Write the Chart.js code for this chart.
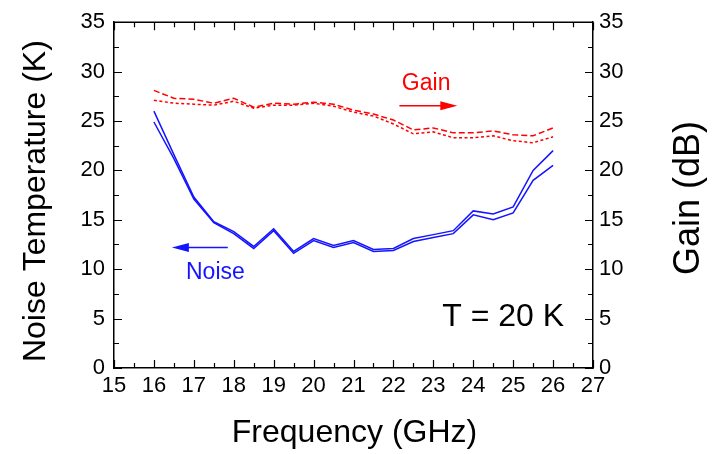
<!DOCTYPE html>
<html>
<head>
<meta charset="utf-8">
<script src="https://cdn.jsdelivr.net/npm/chart.js@4/dist/chart.umd.min.js"></script>
<style>
  body { margin: 0; background: #fff; }
  #wrap { width: 712px; height: 454px; }
</style>
</head>
<body>
<div id="wrap"><canvas id="g_ruido"></canvas></div>
<script>
// frecuencias (GHz)
var frecuencias = [16, 16.5, 17, 17.5, 18, 18.5, 19, 19.5, 20, 20.5, 21, 21.5, 22, 22.5, 23, 23.5, 24, 24.5, 25, 25.5, 26];
// temperatura de ruido (K)
var ruido_a = [26.0, 21.6, 17.3, 14.8, 13.8, 12.3, 14.1, 11.8, 13.1, 12.4, 12.9, 12.0, 12.1, 13.1, 13.5, 13.9, 15.9, 15.6, 16.3, 20.0, 22.0];
var ruido_b = [24.9, 21.2, 17.1, 14.7, 13.6, 12.1, 13.9, 11.6, 12.9, 12.2, 12.7, 11.8, 11.9, 12.8, 13.2, 13.6, 15.5, 15.0, 15.7, 19.0, 20.5];
// ganancia (dB)
var ganancia_a = [28.1, 27.3, 27.2, 26.8, 27.3, 26.4, 26.8, 26.7, 26.9, 26.7, 26.1, 25.7, 25.1, 24.1, 24.3, 23.8, 23.8, 24.0, 23.6, 23.5, 24.3];
var ganancia_b = [27.1, 26.8, 26.7, 26.6, 27.0, 26.3, 26.6, 26.6, 26.8, 26.5, 25.9, 25.5, 24.7, 23.7, 23.9, 23.3, 23.3, 23.5, 23.0, 22.8, 23.4];
var eje_x = { min: 15, max: 27, paso: 1 };
var eje_y = { min: 0, max: 35, paso: 5 };

var fuente = "'Liberation Sans', Arial, sans-serif";
var azul = 'rgb(20, 20, 255)';
var rojo = 'rgb(255, 0, 0)';

function puntos(valores) {
    var res = [];
    for (let i = 0; i < frecuencias.length; i++) {
        res.push({ x: frecuencias[i], y: valores[i] });
    }
    return res;
}

function flecha(ctx, x0, x1, y, color) {
    var dir = x1 > x0 ? 1 : -1;
    ctx.strokeStyle = color;
    ctx.fillStyle = color;
    ctx.lineWidth = 1.5;
    ctx.beginPath();
    ctx.moveTo(x0, y);
    ctx.lineTo(x1 - dir * 14, y);
    ctx.stroke();
    ctx.beginPath();
    ctx.moveTo(x1, y);
    ctx.lineTo(x1 - dir * 17, y - 4.5);
    ctx.lineTo(x1 - dir * 17, y + 4.5);
    ctx.closePath();
    ctx.fill();
}

var marco = {
    id: 'marco',
    afterDatasetsDraw: function (chart) {
        var ctx = chart.ctx;
        var a = chart.chartArea;
        var sx = chart.scales.x, sy = chart.scales.y, sy1 = chart.scales.y1;
        ctx.save();
        ctx.strokeStyle = '#000';
        ctx.lineWidth = 1.5;
        ctx.beginPath();
        ctx.moveTo(a.left, a.top);
        ctx.lineTo(a.right, a.top);
        ctx.stroke();

        // marcas hacia dentro
        ctx.lineWidth = 1.2;
        ctx.beginPath();
        for (let v = eje_x.min; v <= eje_x.max; v += 0.5) {
            var px = Math.round(sx.getPixelForValue(v)) + 0.5;
            var l = (v % 1 === 0) ? 8 : 5;
            ctx.moveTo(px, a.bottom); ctx.lineTo(px, a.bottom - l);
            ctx.moveTo(px, a.top); ctx.lineTo(px, a.top + l);
        }
        for (let v = eje_y.min; v <= eje_y.max; v += 2.5) {
            var py = Math.round(sy.getPixelForValue(v)) + 0.5;
            var l2 = (v % 5 === 0) ? 8 : 5;
            ctx.moveTo(a.left, py); ctx.lineTo(a.left + l2, py);
            ctx.moveTo(a.right, py); ctx.lineTo(a.right - l2, py);
        }
        ctx.stroke();

        // anotaciones
        ctx.font = '23px ' + fuente;
        ctx.textAlign = 'center';
        ctx.textBaseline = 'middle';
        ctx.fillStyle = rojo;
        ctx.fillText('Gain', sx.getPixelForValue(22.82), sy1.getPixelForValue(28.8));
        flecha(ctx, sx.getPixelForValue(22.15), sx.getPixelForValue(23.6), sy1.getPixelForValue(26.55), rojo);
        ctx.fillStyle = azul;
        ctx.fillText('Noise', sx.getPixelForValue(17.54), sy.getPixelForValue(9.7));
        flecha(ctx, sx.getPixelForValue(17.85), sx.getPixelForValue(16.45), sy.getPixelForValue(12.2), azul);

        ctx.fillStyle = '#000';
        ctx.font = '32px ' + fuente;
        ctx.fillText('T = 20 K', sx.getPixelForValue(24.75), sy.getPixelForValue(5.1));

        // titulos de ejes
        ctx.font = '32px ' + fuente;
        ctx.fillText('Frequency (GHz)', (a.left + a.right) / 2 + 1, 433);
        ctx.save();
        ctx.translate(36, (a.top + a.bottom) / 2 + 6);
        ctx.rotate(-Math.PI / 2);
        ctx.fillText('Noise Temperature (K)', 0, 0);
        ctx.restore();
        ctx.font = '36px ' + fuente;
        ctx.save();
        ctx.translate(689, 198);
        ctx.rotate(-Math.PI / 2);
        ctx.fillText('Gain (dB)', 0, 0);
        ctx.restore();
        ctx.restore();
    }
};

function eje(posicion, ancho, relleno) {
    return {
        type: 'linear',
        position: posicion,
        min: eje_y.min,
        max: eje_y.max,
        grid: { display: false, drawTicks: false },
        border: { display: true, color: '#000', width: 1.5 },
        ticks: { stepSize: eje_y.paso, color: '#000', padding: relleno, font: { family: fuente, size: 22 } },
        afterFit: function (s) { s.width = ancho; }
    };
}

var ctx = document.getElementById('g_ruido').getContext('2d');
var myChart = new Chart(ctx, {
    type: 'line',
    data: {
        datasets: [
            { data: puntos(ruido_a), yAxisID: 'y', borderColor: azul, borderWidth: 1.5 },
            { data: puntos(ruido_b), yAxisID: 'y', borderColor: azul, borderWidth: 1.5 },
            { data: puntos(ganancia_a), yAxisID: 'y1', borderColor: rojo, borderWidth: 1.5, borderDash: [6, 3] },
            { data: puntos(ganancia_b), yAxisID: 'y1', borderColor: rojo, borderWidth: 1.5, borderDash: [3, 2.5] }
        ]
    },
    options: {
        responsive: true,
        maintainAspectRatio: false,
        animation: false,
        devicePixelRatio: 1,
        elements: { point: { radius: 0 }, line: { tension: 0, fill: false } },
        layout: { padding: { top: 15, left: 0, right: 0, bottom: 0 } },
        plugins: { legend: { display: false }, tooltip: { enabled: false } },
        scales: {
            x: {
                type: 'linear',
                min: eje_x.min,
                max: eje_x.max,
                grid: { display: false, drawTicks: false },
                border: { display: true, color: '#000', width: 1.5 },
                ticks: { stepSize: eje_x.paso, color: '#000', padding: 5, maxRotation: 0, autoSkip: false, font: { family: fuente, size: 22 } },
                afterFit: function (s) { s.height = 86; }
            },
            y: eje('left', 114, 9),
            y1: eje('right', 119, 6)
        }
    },
    plugins: [marco]
});
</script>
</body>
</html>
